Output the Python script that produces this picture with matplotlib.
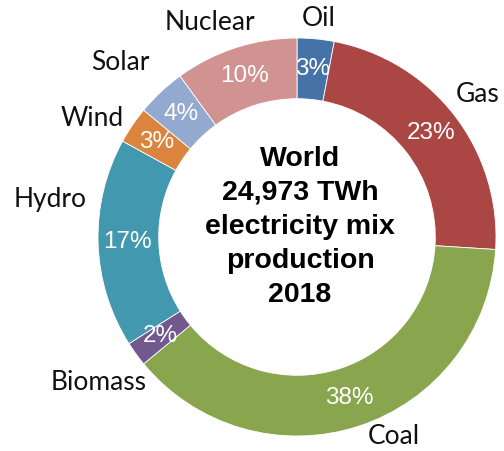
import matplotlib
matplotlib.use("Agg")
import matplotlib.pyplot as plt
import numpy as np

# ---- data ----
categories = ["Oil", "Gas", "Coal", "Biomass", "Hydro", "Wind", "Solar", "Nuclear"]
shares = [3, 23, 38, 2, 17, 3, 4, 10]
colors = ["#4572A7", "#AA4643", "#89A54E", "#71588F", "#4198AF", "#DB843D", "#93A9CF", "#D19392"]
center_text = "World\n24,973 TWh\nelectricity mix\nproduction\n2018"

# ---- layout (pixel space, origin bottom-left) ----
W, H = 504, 451
cx, cy = 297, H - 237
R = 199
ring = 0.305

# label anchor points (text centers), layout only
label_xy = {
    "Oil": (319, H - 18),
    "Gas": (478, H - 95),
    "Coal": (394, H - 437),
    "Biomass": (99, H - 383),
    "Hydro": (50, H - 200),
    "Wind": (92, H - 118),
    "Solar": (120, H - 63),
    "Nuclear": (210, H - 23),
}

fig = plt.figure(figsize=(W / 100, H / 100), dpi=100)
ax = fig.add_axes([0, 0, 1, 1])

wedges, texts = ax.pie(
    shares,
    colors=colors,
    startangle=90,
    counterclock=False,
    center=(cx, cy),
    radius=R,
    wedgeprops=dict(width=R * ring, edgecolor="white", linewidth=0.6),
    frame=True,
)
ax.set_xlim(0, W)
ax.set_ylim(0, H)
ax.set_aspect("equal")
ax.axis("off")

total = sum(shares)
for w, val in zip(wedges, shares):
    ang = np.deg2rad((w.theta1 + w.theta2) / 2)
    r = R * 0.85
    ax.text(cx + r * np.cos(ang), cy + r * np.sin(ang), f"{val / total * 100:.0f}%",
            ha="center", va="center", color="white", fontsize=17.5,
            family="Liberation Sans")

for name in categories:
    x, y = label_xy[name]
    ax.text(x, y, name, ha="center", va="center", fontsize=19, family="Lato",
            color="#111111")

ax.text(cx + 3, H - 227, center_text, ha="center", va="center", fontsize=20.5,
        fontweight="bold", family="Liberation Sans", linespacing=1.41, color="black")

fig.savefig("out.png", dpi=100)
